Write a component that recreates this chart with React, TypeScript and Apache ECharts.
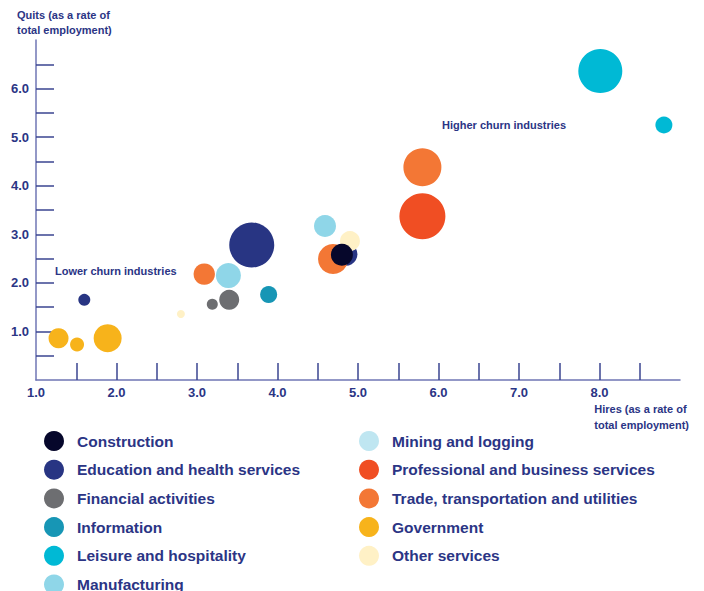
import React, { useEffect, useRef } from "react";
import * as echarts from "echarts";

// [hires rate, quits rate, bubble weight]
const industries = [
  "Construction",
  "Education and health services",
  "Financial activities",
  "Information",
  "Leisure and hospitality",
  "Manufacturing",
  "Mining and logging",
  "Professional and business services",
  "Trade, transportation and utilities",
  "Government",
  "Other services",
];

const construction = [[4.8, 2.58, 11]];
const education = [
  [3.68, 2.78, 22.5],
  [1.6, 1.65, 6],
  [4.85, 2.59, 11.5],
];
const financial = [
  [3.4, 1.65, 10],
  [3.19, 1.56, 5.5],
];
const information = [[3.89, 1.76, 8.5]];
const leisure = [
  [8.01, 6.36, 22],
  [8.8, 5.25, 8.5],
];
const manufacturing = [
  [4.59, 3.17, 11],
  [3.39, 2.15, 12.5],
];
const mining: number[][] = [];
const professional = [[5.8, 3.37, 23]];
const trade = [
  [5.8, 4.38, 19],
  [4.69, 2.49, 15],
  [3.09, 2.18, 10.7],
];
const government = [
  [1.28, 0.86, 10],
  [1.51, 0.73, 7],
  [1.89, 0.86, 14],
];
const otherServices = [
  [4.9, 2.86, 10],
  [2.8, 1.36, 4],
];

const seriesData = [
  construction,
  education,
  financial,
  information,
  leisure,
  manufacturing,
  mining,
  professional,
  trade,
  government,
  otherServices,
];

const colors = [
  "#06072b",
  "#283583",
  "#6d6e71",
  "#1796b5",
  "#00b9d5",
  "#8fd6e8",
  "#bfe6f1",
  "#f04e23",
  "#f37735",
  "#f7b31b",
  "#fff1c6",
];

const xTickValues = [1.5, 2, 2.5, 3, 3.5, 4, 4.5, 5, 5.5, 6, 6.5, 7, 7.5, 8, 8.5];
const xLabelValues = [1, 2, 3, 4, 5, 6, 7, 8];
const yTickValues = [0.5, 1, 1.5, 2, 2.5, 3, 3.5, 4, 4.5, 5, 5.5, 6, 6.5];
const yLabelValues = [1, 2, 3, 4, 5, 6];

const TEXT = "#2b3585";
const FONT = "'Liberation Sans', Arial, sans-serif";

const legendBase = {
  orient: "vertical",
  top: 431,
  height: 180,
  padding: 0,
  itemWidth: 20,
  itemHeight: 20,
  itemGap: 8.7,
  icon: "circle",
  selectedMode: false,
  textStyle: {
    color: TEXT,
    fontSize: 15.5,
    fontWeight: "bold",
    fontFamily: FONT,
    padding: [0, 0, 0, 8],
  },
};

export default function App() {
  const ref = useRef<HTMLDivElement>(null);
  useEffect(() => {
    document.body.style.margin = "0";
    const chart = echarts.init(ref.current!, null, { renderer: "svg" });
    chart.setOption({
      animation: false,
      textStyle: { fontFamily: FONT },
      grid: { left: 36, right: 24, top: 40, bottom: 211 },
      xAxis: {
        type: "value",
        min: 1,
        max: 9,
        interval: 0.5,
        splitLine: { show: false },
        axisLine: { show: true, lineStyle: { color: "#6f76b4", width: 1.5 } },
        axisTick: {
          show: true,
          inside: true,
          length: 17,
          customValues: xTickValues,
          lineStyle: { color: "#3a4590", width: 1.5 },
        },
        axisLabel: {
          customValues: xLabelValues,
          formatter: (v: number) => v.toFixed(1),
          color: TEXT,
          fontWeight: "bold",
          fontSize: 13,
          fontFamily: FONT,
          margin: 6,
        },
      },
      yAxis: {
        type: "value",
        min: 0,
        max: 7,
        interval: 0.5,
        splitLine: { show: false },
        axisLine: { show: true, lineStyle: { color: "#6f76b4", width: 1.5 } },
        axisTick: {
          show: true,
          inside: true,
          length: 18,
          customValues: yTickValues,
          lineStyle: { color: "#3a4590", width: 1.5 },
        },
        axisLabel: {
          customValues: yLabelValues,
          formatter: (v: number) => v.toFixed(1),
          color: TEXT,
          fontWeight: "bold",
          fontSize: 13,
          fontFamily: FONT,
          margin: 7,
        },
      },
      legend: [
        { ...legendBase, data: industries.slice(0, 6), left: 44 },
        { ...legendBase, data: industries.slice(6), left: 359 },
      ],
      graphic: [
        {
          type: "text",
          left: 17,
          top: 7,
          style: {
            text: "Quits (as a rate of\ntotal employment)",
            fill: TEXT,
            font: `bold 11px ${FONT}`,
            lineHeight: 15,
          },
        },
        {
          type: "text",
          right: 15,
          top: 401,
          style: {
            text: "Hires (as a rate of\ntotal employment)",
            fill: TEXT,
            font: `bold 11px ${FONT}`,
            lineHeight: 16,
            align: "left",
          },
        },
        {
          type: "text",
          left: 55,
          top: 265,
          style: { text: "Lower churn industries", fill: TEXT, font: `bold 11px ${FONT}` },
        },
        {
          type: "text",
          left: 442,
          top: 119,
          style: { text: "Higher churn industries", fill: TEXT, font: `bold 11px ${FONT}` },
        },
      ],
      series: industries.map((name, i) => ({
        name,
        type: "scatter",
        data: seriesData[i],
        symbol: "circle",
        symbolSize: (d: number[]) => d[2] * 2,
        itemStyle: { color: colors[i], opacity: 1 },
        emphasis: { disabled: true },
        z: name === "Construction" ? 5 : 2,
      })),
    });
    return () => chart.dispose();
  }, []);
  return <div ref={ref} style={{ width: 704, height: 591 }} />;
}
